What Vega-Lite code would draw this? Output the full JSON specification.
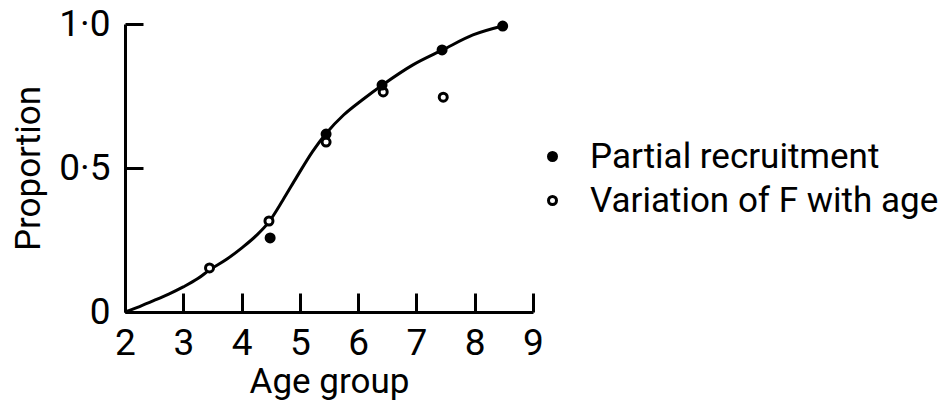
{
  "$schema": "https://vega.github.io/schema/vega-lite/v6.json",
  "width": 408,
  "height": 288,
  "autosize": {"type": "none"},
  "padding": {"left": 125, "top": 24, "right": 408, "bottom": 100},
  "background": "white",
  "config": {
    "view": {"stroke": null},
    "font": "Roboto",
    "axis": {
      "grid": false,
      "domainColor": "black",
      "domainWidth": 3,
      "tickColor": "black",
      "tickWidth": 3,
      "labelColor": "black",
      "titleColor": "black",
      "labelFont": "Roboto",
      "titleFont": "Roboto",
      "labelFontSize": 37,
      "titleFontSize": 35,
      "titleFontWeight": "normal"
    },
    "legend": {
      "labelFont": "Roboto",
      "labelFontSize": 35,
      "labelColor": "black"
    }
  },
  "datasets": {
    "curve": [
      {"age": 2.0, "proportion": 0.0},
      {"age": 2.25, "proportion": 0.019},
      {"age": 2.5, "proportion": 0.04},
      {"age": 2.75, "proportion": 0.062},
      {"age": 3.0, "proportion": 0.087},
      {"age": 3.25, "proportion": 0.116},
      {"age": 3.45, "proportion": 0.146},
      {"age": 3.75, "proportion": 0.184},
      {"age": 4.0, "proportion": 0.222},
      {"age": 4.25, "proportion": 0.265},
      {"age": 4.47, "proportion": 0.313},
      {"age": 4.71, "proportion": 0.389},
      {"age": 4.95, "proportion": 0.47},
      {"age": 5.22, "proportion": 0.558},
      {"age": 5.45, "proportion": 0.62},
      {"age": 5.75, "proportion": 0.684},
      {"age": 6.08, "proportion": 0.738},
      {"age": 6.43, "proportion": 0.79},
      {"age": 6.94, "proportion": 0.858},
      {"age": 7.45, "proportion": 0.91},
      {"age": 7.97, "proportion": 0.962},
      {"age": 8.48, "proportion": 0.993}
    ],
    "points": [
      {"age": 3.45, "proportion": 0.153, "series": "Variation of F with age"},
      {"age": 4.47, "proportion": 0.316, "series": "Variation of F with age"},
      {"age": 5.45, "proportion": 0.59, "series": "Variation of F with age"},
      {"age": 6.43, "proportion": 0.764, "series": "Variation of F with age"},
      {"age": 7.46, "proportion": 0.746, "series": "Variation of F with age"},
      {"age": 4.49, "proportion": 0.257, "series": "Partial recruitment"},
      {"age": 5.45, "proportion": 0.618, "series": "Partial recruitment"},
      {"age": 6.41, "proportion": 0.788, "series": "Partial recruitment"},
      {"age": 7.44, "proportion": 0.91, "series": "Partial recruitment"},
      {"age": 8.48, "proportion": 0.993, "series": "Partial recruitment"}
    ]
  },
  "layer": [
    {
      "data": {"name": "curve"},
      "mark": {"type": "line", "color": "black", "strokeWidth": 3, "interpolate": "monotone"},
      "encoding": {
        "x": {
          "field": "age", "type": "quantitative",
          "scale": {"domain": [2, 9], "nice": false, "zero": false},
          "axis": {
            "title": "Age group",
            "values": [2, 3, 4, 5, 6, 7, 8, 9],
            "format": "d",
            "tickSize": -19,
            "labelPadding": 32,
            "titlePadding": 3,
            "labelFlush": false
          }
        },
        "y": {
          "field": "proportion", "type": "quantitative",
          "scale": {"domain": [0, 1], "nice": false},
          "axis": {
            "title": "Proportion",
            "values": [0, 0.5, 1],
            "labelExpr": "datum.value == 0 ? '0' : (datum.value == 0.5 ? '0·5' : '1·0')",
            "tickSize": -18,
            "labelPadding": 33,
            "titlePadding": 12,
            "labelFlush": false
          }
        }
      }
    },
    {
      "data": {"name": "points"},
      "mark": {"type": "point", "shape": "circle", "size": 64, "stroke": "black", "strokeWidth": 3, "opacity": 1, "filled": false},
      "encoding": {
        "x": {"field": "age", "type": "quantitative"},
        "y": {"field": "proportion", "type": "quantitative"},
        "fill": {
          "field": "series", "type": "nominal",
          "scale": {"domain": ["Partial recruitment", "Variation of F with age"], "range": ["black", "white"]},
          "legend": {
            "title": null,
            "orient": "none",
            "legendX": 410,
            "legendY": 115,
            "padding": 0,
            "symbolType": "circle",
            "symbolSize": 64,
            "symbolStrokeColor": "black",
            "symbolStrokeWidth": 3,
            "symbolOpacity": 1,
            "labelOffset": 20,
            "rowPadding": 8,
            "labelLimit": 400
          }
        }
      }
    }
  ]
}
